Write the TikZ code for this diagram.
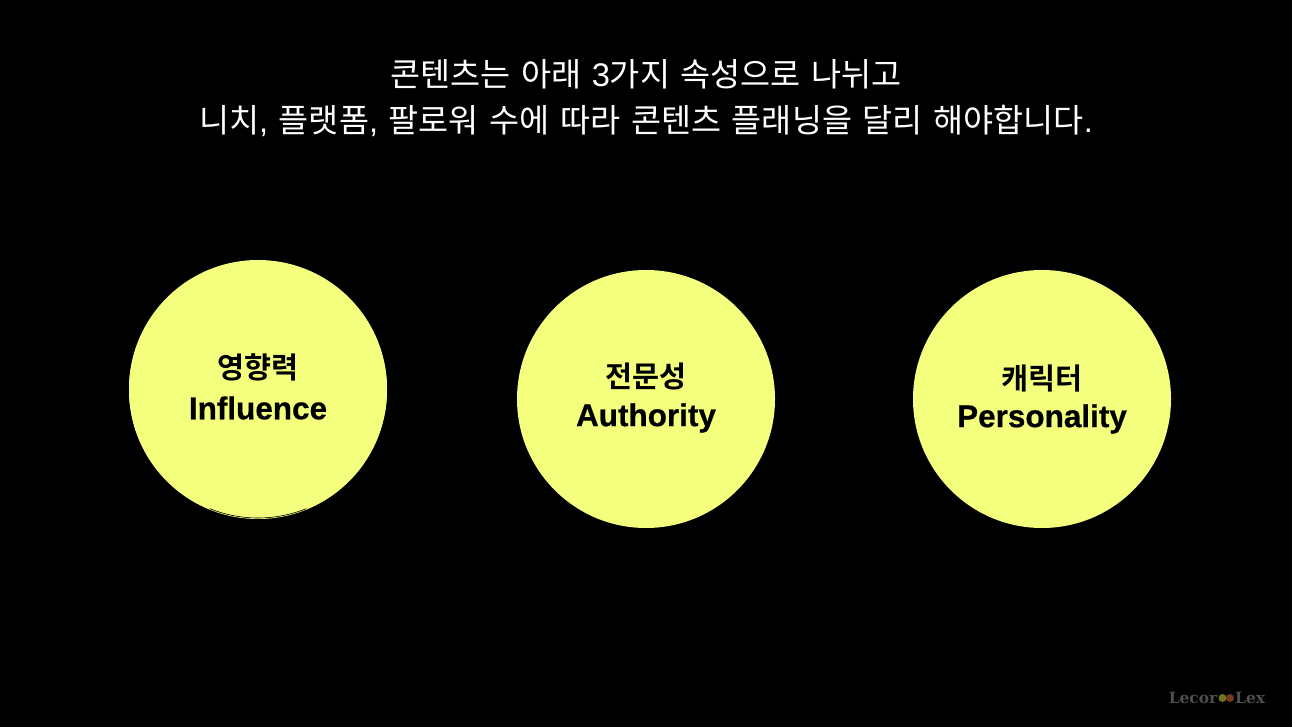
\documentclass[tikz,border=0pt]{standalone}
\usepackage{fontspec}
\setmainfont{Noto Sans CJK KR}[WordSpace=1.45]
\newfontfamily\kobold{Noto Sans CJK KR Bold}
\newfontfamily\latinb{Liberation Sans Bold}[FakeBold=0.6]
\newfontfamily\latinr{Liberation Sans}
\newfontfamily\logofont{DejaVu Serif Bold}
\definecolor{circ}{HTML}{F3FF7D}
\definecolor{logo}{HTML}{4F4F4F}
\definecolor{dotl}{HTML}{6F7420}
\definecolor{dotr}{HTML}{7A3A22}
\tikzset{
  bub/.style={circle,fill=circ,draw=none,minimum size=258bp,inner sep=0pt},
  ko/.style={text=black,font=\fontsize{29.5}{30}\selectfont\kobold,inner sep=0pt},
  en/.style={text=black,font=\fontsize{31.6}{32}\selectfont\latinb,inner sep=0pt},
  ttl/.style={text=white,font=\fontsize{32.8}{34}\selectfont,inner sep=0pt},
  lg/.style={text=logo,font=\fontsize{15.5}{16}\selectfont\logofont,inner sep=0pt}
}
\begin{document}
\begin{tikzpicture}[x=1bp,y=-1bp]
\path[fill=black,use as bounding box] (0,0) rectangle (1292,727);
\node[ttl] (t1) at (646,74) {콘텐츠는 아래 {\latinr 3}가지 속성으로 나뉘고};
\node[ttl] (t2) at (646,120.5) {니치{\latinr ,} 플랫폼{\latinr ,} 팔로워 수에 따라 콘텐츠 플래닝을 달리 해야합니다{\latinr .}};
\node[bub] (c0) at (258,390) {};
\node[bub] (c1) at (258,389) {};
\node[bub] (c2) at (646,399) {};
\node[bub] (c3) at (1042,399) {};
\draw[black,line width=0.6bp] (c1.center) ++(68:129) arc[start angle=68,end angle=112,radius=129];
\node[ko] (k1) at (258,367) {영향력};
\node[en] (e1) at (258,408) {Influence};
\node[ko] (k2) at (646,377) {전문성};
\node[en] (e2) at (646,418) {Authority};
\node[ko] (k3) at (1042,378) {캐릭터};
\node[en] (e3) at (1042,419) {Personality};
\node[lg,anchor=east] (l1) at (1217.5,698) {Lecor};
\node[lg,anchor=west] (l2) at (1235,698) {Lex};
\fill[dotr] (1230,698) circle (4);
\fill[dotl] (1222.5,698) circle (4);
\end{tikzpicture}
\end{document}
